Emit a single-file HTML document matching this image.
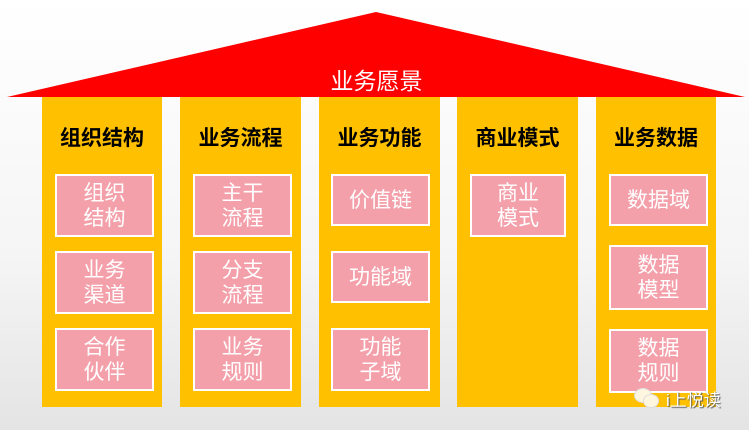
<!DOCTYPE html>
<html><head><meta charset="utf-8"><style>
body{margin:0;width:749px;height:430px;overflow:hidden;background:linear-gradient(#fff 0%,#f5f5f5 60%,#e4e4e4 100%);font-family:"Liberation Sans","Noto Sans CJK SC",sans-serif;position:relative}
.col{position:absolute;top:97px;height:310px;background:#ffc000}
.t{position:absolute;top:25px;font-size:21px;font-weight:bold;color:#000;text-align:center;width:100%}
.b{position:absolute;background:#f4a0aa;border:2px solid #fff;box-sizing:border-box;color:#fff;font-size:21px;line-height:25px;display:flex;align-items:center;justify-content:center;text-align:center}
</style></head><body>
<svg width="749" height="430" style="position:absolute;left:0;top:0"><polygon points="7,97 376,12 745,97" fill="#ff0000"/></svg>
<div style="position:absolute;left:0;width:749px;top:62px;text-align:center;color:#fff;font-size:23px;padding-left:2px">业务愿景</div>
<div class="col" style="left:42px;width:120px"><div class="t">组织结构</div></div>
<div class="col" style="left:180px;width:121px"><div class="t">业务流程</div></div>
<div class="col" style="left:319px;width:121px"><div class="t">业务功能</div></div>
<div class="col" style="left:457px;width:121px"><div class="t">商业模式</div></div>
<div class="col" style="left:596px;width:120px"><div class="t">业务数据</div></div>

<div class="b" style="left:55px;top:174px;width:99px;height:63px">组织<br>结构</div>
<div class="b" style="left:55px;top:251px;width:99px;height:63px">业务<br>渠道</div>
<div class="b" style="left:55px;top:328px;width:99px;height:63px">合作<br>伙伴</div>

<div class="b" style="left:193px;top:174px;width:99px;height:63px">主干<br>流程</div>
<div class="b" style="left:193px;top:251px;width:99px;height:63px">分支<br>流程</div>
<div class="b" style="left:193px;top:328px;width:99px;height:63px">业务<br>规则</div>

<div class="b" style="left:331px;top:174px;width:99px;height:52px">价值链</div>
<div class="b" style="left:331px;top:251px;width:99px;height:52px">功能域</div>
<div class="b" style="left:331px;top:328px;width:99px;height:63px">功能<br>子域</div>

<div class="b" style="left:470px;top:174px;width:96px;height:63px">商业<br>模式</div>

<div class="b" style="left:609px;top:174px;width:99px;height:52px">数据域</div>
<div class="b" style="left:609px;top:245px;width:99px;height:65px">数据<br>模型</div>
<div class="b" style="left:609px;top:329px;width:99px;height:64px">数据<br>规则</div>

<div style="position:absolute;left:634px;top:388px;width:16px;height:13px;background:#fff6e0;border-radius:50%;border:1px solid #ddd"></div>
<div style="position:absolute;left:643px;top:394px;width:14px;height:12px;background:#fff6e0;border-radius:50%;border:1px solid #ddd"></div>
<div style="position:absolute;left:666px;top:386px;color:#fff;font-size:17px;text-shadow:1px 1px 1px #555">i上悦读</div>
</body></html>
